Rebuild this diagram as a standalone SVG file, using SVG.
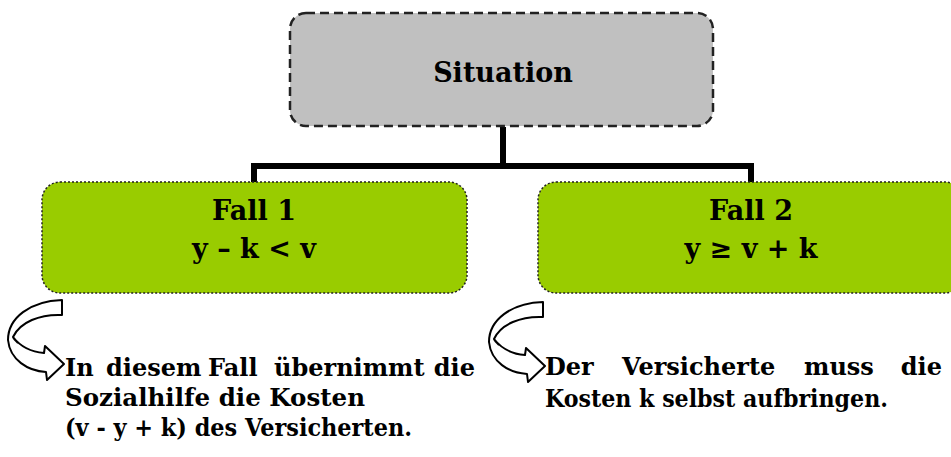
<svg xmlns="http://www.w3.org/2000/svg" width="951" height="457" viewBox="0 0 951 457">
<defs>
<style>
.t{font-family:'DejaVu Serif',serif;font-weight:bold;fill:#000}
.d{font-family:'DejaVu Serif',serif;font-weight:bold;fill:#000;font-size:24px}
.fall{fill:#99cc00;stroke:#222;stroke-width:1.5;stroke-dasharray:2 2}
.conn{stroke:#000;stroke-width:6;fill:none}
.arr{fill:#fff;stroke:#000;stroke-width:2;stroke-linejoin:round}
</style>
<path id="carrow" d="M62,300 L62,315 C40,314 20,322 13,337 C20,346 31,352 44,353 L45,346 L64,364 L47,380 L46,372 C28,371 10,360 8,340 C8,318 30,301 62,300 Z M13,337 C14,339 16,341 18,343"/>
</defs>
<rect width="951" height="457" fill="#fff"/>
<g id="connectors">
<path class="conn" d="M503,127 V166 M254,182 V166 H751 V182"/>
</g>
<g id="situation">
<rect x="290" y="13" width="423" height="113" rx="16" fill="#c0c0c0" stroke="#222" stroke-width="2.5" stroke-dasharray="9 5"/>
<text class="t" x="503" y="82" font-size="27" text-anchor="middle">Situation</text>
</g>
<g id="fall1">
<rect class="fall" x="42" y="182" width="425" height="111" rx="18"/>
<text class="t" x="254" y="220" font-size="27" text-anchor="middle">Fall 1</text>
<text class="t" x="254" y="258" font-size="27" text-anchor="middle">y – k &lt; v</text>
</g>
<g id="fall2">
<rect class="fall" x="538" y="182" width="425" height="111" rx="18"/>
<text class="t" x="751" y="220" font-size="27" text-anchor="middle">Fall 2</text>
<text class="t" x="751" y="258" font-size="27" text-anchor="middle">y ≥ v + k</text>
</g>
<g id="desc1">
<use href="#carrow" class="arr"/>
<text class="d" x="65" y="376">In</text>
<text class="d" x="106" y="376">diesem</text>
<text class="d" x="208" y="376">Fall</text>
<text class="d" x="274" y="376">übernimmt</text>
<text class="d" x="475" y="376" text-anchor="end">die</text>
<text class="d" x="65" y="406" textLength="300" lengthAdjust="spacingAndGlyphs">Sozialhilfe die Kosten</text>
<text class="d" x="65" y="436" textLength="347" lengthAdjust="spacingAndGlyphs">(v - y + k) des Versicherten.</text>
</g>
<g id="desc2">
<use href="#carrow" class="arr" transform="translate(481,2)"/>
<text class="d" x="545" y="375">Der</text>
<text class="d" x="622" y="375">Versicherte</text>
<text class="d" x="804" y="375">muss</text>
<text class="d" x="942" y="375" text-anchor="end">die</text>
<text class="d" x="545" y="407" textLength="343" lengthAdjust="spacingAndGlyphs">Kosten k selbst aufbringen.</text>
</g>
</svg>
